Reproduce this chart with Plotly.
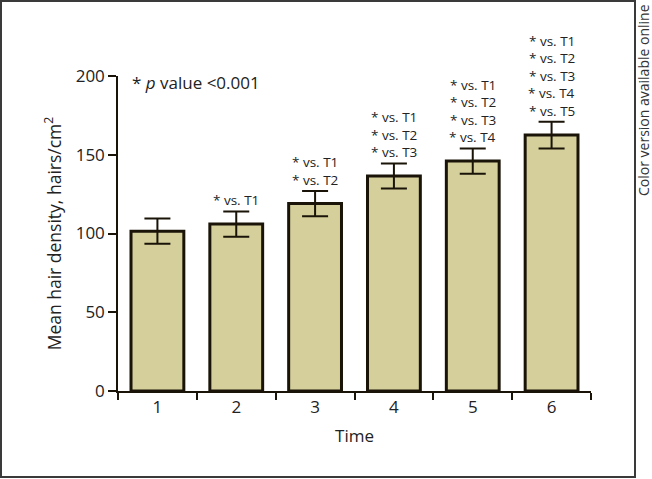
import plotly.graph_objects as go

times = ["1", "2", "3", "4", "5", "6"]
means = [101.5, 106, 119, 136.5, 146, 162.5]
errors = [8, 8, 8, 8, 8, 8.5]
comparisons = [
    [],
    ["T1"],
    ["T1", "T2"],
    ["T1", "T2", "T3"],
    ["T1", "T2", "T3", "T4"],
    ["T1", "T2", "T3", "T4", "T5"],
]

FONT = "Open Sans"
W, H = 652, 479
L, R, T, B = 118, 61, 76, 88
pw, ph = W - L - R, H - T - B

def px(x):
    return (x - L) / pw

def py(y):
    return (H - B - y) / ph

fig = go.Figure()
fig.add_trace(go.Bar(
    x=times, y=means,
    marker=dict(color="#d4cf9b", line=dict(color="#1a1408", width=3)),
    error_y=dict(type="data", array=errors, visible=True, color="#1a1408",
                 thickness=2, width=13),
    width=0.67,
    cliponaxis=False,
    hoverinfo="skip",
))

for i, (m, e, comps) in enumerate(zip(means, errors, comparisons)):
    n = len(comps)
    for k, c in enumerate(comps):
        fig.add_annotation(x=i, y=m + e, text="* vs. " + c, showarrow=False,
                           xanchor="center", yanchor="middle", borderpad=0,
                           yshift=11 + 17.5 * (n - 1 - k),
                           font=dict(family=FONT, size=13.5, color="#222"))

fig.add_annotation(xref="paper", yref="paper", x=px(130), y=py(82),
                   xanchor="left", yanchor="middle", showarrow=False,
                   text="* <i>p</i> value <0.001",
                   font=dict(family=FONT, size=17, color="#222"))

fig.add_annotation(xref="paper", yref="paper", x=px(644), y=py(2),
                   xanchor="center", yanchor="top", showarrow=False,
                   textangle=-90, text="Color version available online",
                   font=dict(family=FONT, size=14, color="#333"))

fig.add_shape(type="rect", xref="paper", yref="paper",
              x0=px(1), x1=px(635), y0=py(477), y1=py(1),
              line=dict(color="#3a3a3a", width=2))

fig.update_layout(
    width=W, height=H,
    margin=dict(l=L, r=R, t=T, b=B),
    paper_bgcolor="white", plot_bgcolor="white",
    showlegend=False,
    font=dict(family=FONT, size=17, color="#222"),
)
fig.update_xaxes(
    type="category", range=[-0.5, 5.5], showline=True, linecolor="#1a1408",
    linewidth=1.5, ticks="outside", tickson="boundaries", ticklen=7,
    tickwidth=1.5, tickcolor="#1a1408", showgrid=False, zeroline=False,
    title=dict(text="Time", font=dict(family=FONT, size=17), standoff=13),
    tickfont=dict(family=FONT, size=17),
)
fig.update_yaxes(
    range=[0, 200], tickvals=[0, 50, 100, 150, 200],
    showline=True, linecolor="#1a1408", linewidth=1.5,
    ticks="outside", ticklen=8, tickwidth=1.5, tickcolor="#1a1408",
    showgrid=False, zeroline=False,
    title=dict(text="Mean hair density, hairs/cm<sup>2</sup>",
               font=dict(family=FONT, size=17.5), standoff=10),
    tickfont=dict(family=FONT, size=17),
)

fig.write_html("out.html", config={"displayModeBar": False},
               post_script="document.body.style.margin='0px';document.body.style.overflow='hidden';")
